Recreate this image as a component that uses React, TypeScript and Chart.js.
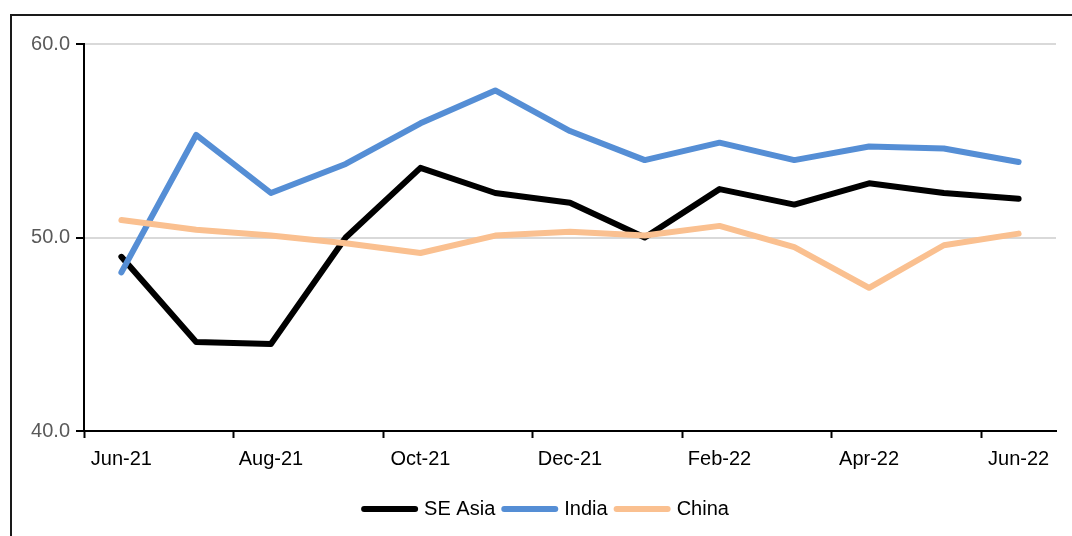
import React, { useEffect, useRef } from "react";
import { Chart, registerables } from "chart.js";

Chart.register(...registerables);

const categories = [
  "Jun-21", "Jul-21", "Aug-21", "Sep-21", "Oct-21", "Nov-21", "Dec-21",
  "Jan-22", "Feb-22", "Mar-22", "Apr-22", "May-22", "Jun-22",
];
const seAsia = [49.0, 44.6, 44.5, 50.0, 53.6, 52.3, 51.8, 50.0, 52.5, 51.7, 52.8, 52.3, 52.0];
const india = [48.2, 55.3, 52.3, 53.8, 55.9, 57.6, 55.5, 54.0, 54.9, 54.0, 54.7, 54.6, 53.9];
const china = [50.9, 50.4, 50.1, 49.7, 49.2, 50.1, 50.3, 50.1, 50.6, 49.5, 47.4, 49.6, 50.2];
const yTicks = [40, 50, 60];

const FONT = "'Liberation Sans', Arial, sans-serif";

const legendPlugin = {
  id: "customLegend",
  afterDraw(chart: any) {
    const ctx = chart.ctx as CanvasRenderingContext2D;
    const items = chart.data.datasets.map((d: any) => ({ label: d.label, color: d.borderColor }));
    ctx.save();
    ctx.font = `20px ${FONT}`;
    const lineLen = 57;
    const gap = 6;
    let total = 0;
    items.forEach((it: any, i: number) => {
      total += lineLen + gap + ctx.measureText(it.label).width + (i < items.length - 1 ? gap : 0);
    });
    let x = 545 - total / 2;
    const y = 509;
    items.forEach((it: any) => {
      ctx.strokeStyle = it.color;
      ctx.lineWidth = 6;
      ctx.lineCap = "round";
      ctx.beginPath();
      ctx.moveTo(x + 3, y);
      ctx.lineTo(x + lineLen - 3, y);
      ctx.stroke();
      x += lineLen + gap;
      ctx.fillStyle = "#000";
      ctx.textBaseline = "middle";
      ctx.textAlign = "left";
      ctx.fillText(it.label, x, y);
      x += ctx.measureText(it.label).width + gap;
    });
    ctx.restore();
  },
};

export default function App() {
  const ref = useRef<HTMLCanvasElement>(null);
  useEffect(() => {
    if (!ref.current) return;
    const common = {
      borderWidth: 6,
      pointRadius: 0,
      tension: 0,
      borderCapStyle: "round" as const,
      borderJoinStyle: "round" as const,
      fill: false,
    };
    const chart = new Chart(ref.current, {
      type: "line",
      data: {
        labels: categories,
        datasets: [
          { label: "SE Asia", data: seAsia, borderColor: "#000000", order: 3, ...common },
          { label: "India", data: india, borderColor: "#558ED5", order: 2, ...common },
          { label: "China", data: china, borderColor: "#FAC090", order: 1, ...common },
        ],
      },
      options: {
        animation: false,
        responsive: false,
        devicePixelRatio: 1,
        layout: { padding: { top: 44, right: 16, bottom: 65, left: 0 } },
        plugins: { legend: { display: false }, tooltip: { enabled: false } },
        scales: {
          x: {
            offset: true,
            grid: {
              offset: true,
              drawOnChartArea: false,
              tickLength: 7,
              tickWidth: 2,
              tickColor: (c: any) => (c.index % 2 === 0 ? "#000" : "rgba(0,0,0,0)"),
            },
            border: { display: true, color: "#000", width: 2 },
            ticks: {
              autoSkip: false,
              maxRotation: 0,
              padding: 9,
              color: "#000",
              font: { family: FONT, size: 20 },
              callback: (_v: any, i: number) => (i % 2 === 0 ? categories[i] : ""),
            },
            afterFit: (s: any) => {
              s.height = 40;
            },
          },
          y: {
            min: yTicks[0],
            max: yTicks[yTicks.length - 1],
            afterBuildTicks: (s: any) => {
              s.ticks = yTicks.map((v) => ({ value: v }));
            },
            grid: {
              color: (c: any) => (c.tick && c.tick.value === 40 ? "rgba(0,0,0,0)" : "#D9D9D9"),
              lineWidth: 2,
              tickColor: "#000",
              tickLength: 8,
              tickWidth: 2,
            },
            border: { display: true, color: "#000", width: 2 },
            ticks: {
              padding: 6,
              color: "#595959",
              font: { family: FONT, size: 20 },
              callback: (v: any) => Number(v).toFixed(1),
            },
            afterFit: (s: any) => {
              s.width = 84;
            },
          },
        },
      },
      plugins: [legendPlugin],
    });
    return () => chart.destroy();
  }, []);
  return (
    <div
      style={{
        position: "absolute",
        top: 0,
        left: 0,
        width: 1072,
        height: 536,
        overflow: "hidden",
        background: "#fff",
      }}
    >
      <canvas ref={ref} width={1072} height={536} style={{ display: "block", position: "absolute", top: 0, left: 0 }} />
      <div
        style={{
          position: "absolute",
          left: 10,
          top: 14,
          width: 1200,
          height: 700,
          border: "2px solid #1a1a1a",
          boxSizing: "border-box",
          pointerEvents: "none",
        }}
      />
    </div>
  );
}
